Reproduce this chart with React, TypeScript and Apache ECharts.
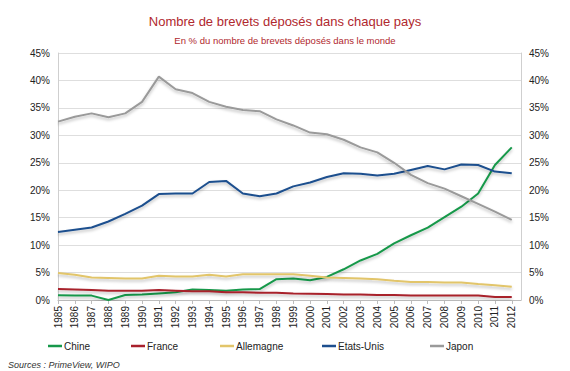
import React, { useEffect, useRef } from "react";
import * as echarts from "echarts";

const years = [1985,1986,1987,1988,1989,1990,1991,1992,1993,1994,1995,1996,1997,1998,1999,2000,2001,2002,2003,2004,2005,2006,2007,2008,2009,2010,2011,2012];
const chine = [0.85,0.8,0.8,0.0,0.9,1.0,1.2,1.4,1.9,1.8,1.7,1.9,2.0,3.8,3.9,3.6,4.2,5.6,7.2,8.4,10.3,11.8,13.2,15.1,17.0,19.4,24.6,27.8];
const france = [2.0,1.9,1.8,1.7,1.7,1.7,1.8,1.7,1.6,1.6,1.4,1.4,1.3,1.3,1.2,1.15,1.1,1.0,1.0,0.9,0.9,0.8,0.8,0.8,0.8,0.8,0.55,0.55];
const allemagne = [4.9,4.6,4.1,4.0,3.9,3.9,4.4,4.3,4.3,4.6,4.3,4.7,4.7,4.7,4.7,4.4,4.1,4.0,3.9,3.8,3.5,3.3,3.3,3.2,3.2,2.9,2.7,2.4];
const etatsUnis = [12.4,12.8,13.2,14.3,15.7,17.2,19.3,19.4,19.4,21.5,21.7,19.4,18.9,19.4,20.7,21.4,22.4,23.1,23.0,22.7,23.0,23.7,24.4,23.8,24.7,24.6,23.4,23.1];
const japon = [32.5,33.4,34.0,33.3,34.0,36.1,40.7,38.4,37.7,36.1,35.2,34.6,34.4,32.9,31.8,30.5,30.2,29.2,27.8,26.9,25.0,22.8,21.3,20.3,18.9,17.5,16.1,14.6];

const seriesNames = ["Chine", "France", "Allemagne", "Etats-Unis", "Japon"];
const seriesData = [chine, france, allemagne, etatsUnis, japon];
const seriesColors = ["#17984a", "#a8202c", "#e2c56a", "#1d4f8e", "#9a9a9a"];
const legendLefts = [48, 131, 220, 322, 430];

const FONT = "Liberation Sans, Arial, sans-serif";

export default function App() {
  const ref = useRef<HTMLDivElement>(null);
  useEffect(() => {
    if (!ref.current) return;
    const chart = echarts.init(ref.current, null, { renderer: "svg" });
    const yAxisCommon = {
      type: "value",
      min: 0,
      max: 45,
      interval: 5,
      axisLabel: {
        formatter: (v: number) => `${v}%`,
        fontSize: 10,
        color: "#222",
        fontFamily: FONT,
      },
      axisTick: { show: false },
    };
    chart.setOption({
      animation: false,
      backgroundColor: "#ffffff",
      title: [
        {
          text: "Nombre de brevets déposés dans chaque pays",
          left: "center",
          top: 10,
          textStyle: { fontSize: 13, fontWeight: "normal", color: "#b0282e", fontFamily: FONT },
        },
        {
          text: "En % du nombre de brevets déposés dans le monde",
          left: "center",
          top: 30,
          textStyle: { fontSize: 9.5, fontWeight: "normal", color: "#b0282e", fontFamily: FONT },
        },
      ],
      legend: seriesNames.map((name, i) => ({
        left: legendLefts[i],
        top: 341,
        icon: "rect",
        itemWidth: 14,
        itemHeight: 2.5,
        padding: 0,
        textStyle: { fontSize: 10, color: "#222", fontFamily: FONT, padding: [0, 0, 0, -3] },
        data: [name],
      })),
      grid: { left: 58, right: 49, top: 53, bottom: 71, containLabel: false },
      xAxis: {
        type: "value",
        min: 1985,
        max: 2012.55,
        interval: 1,
        axisLine: { show: true, lineStyle: { color: "#bdbdbd" } },
        axisTick: { show: true, length: 4, lineStyle: { color: "#bdbdbd" } },
        splitLine: { show: false },
        axisLabel: {
          rotate: 90,
          fontSize: 10,
          color: "#222",
          fontFamily: FONT,
          margin: 6,
          showMaxLabel: false,
          formatter: (v: number) => (Math.abs(v - Math.round(v)) < 1e-6 ? String(Math.round(v)) : ""),
        },
      },
      yAxis: [
        {
          ...yAxisCommon,
          position: "left",
          axisLine: { show: true, lineStyle: { color: "#cfcfcf" } },
          splitLine: { show: true, lineStyle: { color: "#dedede", width: 1 } },
        },
        {
          ...yAxisCommon,
          position: "right",
          axisLine: { show: true, lineStyle: { color: "#cfcfcf" } },
          splitLine: { show: false },
        },
      ],
      series: seriesNames.map((name, i) => ({
        name,
        type: "line",
        yAxisIndex: 0,
        symbol: "none",
        data: years.map((y, j) => [y, seriesData[i][j]]),
        lineStyle: {
          width: 2,
          color: seriesColors[i],
          shadowColor: "rgba(0,0,0,0.25)",
          shadowBlur: 3,
          shadowOffsetY: 2,
        },
        itemStyle: { color: seriesColors[i] },
        z: 2 + i,
      })),
      graphic: [
        {
          type: "text",
          left: 8,
          top: 360,
          style: {
            text: "Sources : PrimeView, WIPO",
            fontSize: 9,
            fontStyle: "italic",
            fill: "#333",
            fontFamily: FONT,
          },
        },
      ],
    });
    return () => chart.dispose();
  }, []);
  return <div ref={ref} style={{ width: 570, height: 371, position: "absolute", left: 0, top: 0 }} />;
}
